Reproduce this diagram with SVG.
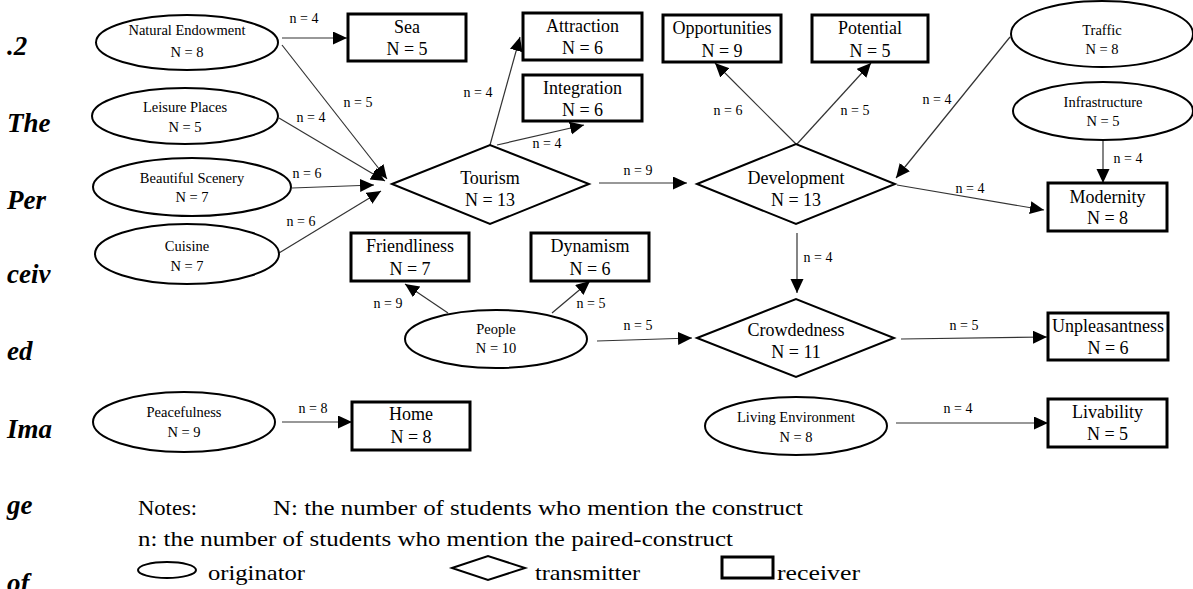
<svg xmlns="http://www.w3.org/2000/svg" width="1193" height="589" viewBox="0 0 1193 589">
<style>
.ell{fill:#fff;stroke:#000;stroke-width:2}
.box{fill:#fff;stroke:#000;stroke-width:3}
.dia{fill:#fff;stroke:#000;stroke-width:2}
.e{font-family:"Liberation Serif",serif;font-size:14.5px;text-anchor:middle;fill:#000}
.b{font-family:"Liberation Serif",serif;font-size:18px;text-anchor:middle;fill:#000}
.l{font-family:"Liberation Serif",serif;font-size:14px;text-anchor:middle;fill:#000}
.c{fill:none;stroke:#333;stroke-width:1.2}
.side{font-family:"Liberation Serif",serif;font-size:27px;font-weight:bold;font-style:italic;fill:#000}
.note{font-family:"Liberation Serif",serif;font-size:21px;fill:#000}
</style>
<defs>
<marker id="ah" markerUnits="userSpaceOnUse" markerWidth="15" markerHeight="14" refX="14" refY="6.5" orient="auto">
<path d="M0,0 L14,6.5 L0,13 z" fill="#000"/>
</marker>
</defs>
<rect width="1193" height="589" fill="#fff"/>

<g id="sidetext">
<text class="side" x="7" y="55">.2</text>
<text class="side" x="7" y="132">The</text>
<text class="side" x="7" y="209">Per</text>
<text class="side" x="7" y="283">ceiv</text>
<text class="side" x="7" y="360">ed</text>
<text class="side" x="7" y="438">Ima</text>
<text class="side" x="7" y="514">ge</text>
<text class="side" x="7" y="592">of</text>
</g>

<g id="connectors">
<line class="c" x1="282" y1="38" x2="347" y2="38" marker-end="url(#ah)"/>
<line class="c" x1="282" y1="45" x2="387" y2="179" marker-end="url(#ah)"/>
<line class="c" x1="279" y1="118" x2="385" y2="181" marker-end="url(#ah)"/>
<line class="c" x1="292" y1="188" x2="374" y2="185" marker-end="url(#ah)"/>
<line class="c" x1="279" y1="253" x2="381" y2="191" marker-end="url(#ah)"/>
<line class="c" x1="490" y1="145" x2="520" y2="37" marker-end="url(#ah)"/>
<line class="c" x1="497" y1="145" x2="584" y2="125" marker-end="url(#ah)"/>
<line class="c" x1="599" y1="183" x2="687" y2="183" marker-end="url(#ah)"/>
<line class="c" x1="797" y1="145" x2="715" y2="63" marker-end="url(#ah)"/>
<line class="c" x1="797" y1="144" x2="871" y2="63" marker-end="url(#ah)"/>
<line class="c" x1="1010" y1="37" x2="896" y2="178" marker-end="url(#ah)"/>
<line class="c" x1="1103" y1="140" x2="1103" y2="183" marker-end="url(#ah)"/>
<line class="c" x1="897" y1="185" x2="1044" y2="210" marker-end="url(#ah)"/>
<line class="c" x1="797" y1="233" x2="797" y2="293" marker-end="url(#ah)"/>
<line class="c" x1="448" y1="313" x2="405" y2="284" marker-end="url(#ah)"/>
<line class="c" x1="552" y1="313" x2="590" y2="281" marker-end="url(#ah)"/>
<line class="c" x1="597" y1="341" x2="692" y2="338" marker-end="url(#ah)"/>
<line class="c" x1="901" y1="339" x2="1047" y2="337" marker-end="url(#ah)"/>
<line class="c" x1="282" y1="422" x2="352" y2="422" marker-end="url(#ah)"/>
<line class="c" x1="896" y1="423" x2="1048" y2="423" marker-end="url(#ah)"/>
<text class="l" x="304" y="23">n = 4</text>
<text class="l" x="358" y="107">n = 5</text>
<text class="l" x="311" y="122">n = 4</text>
<text class="l" x="307" y="178">n = 6</text>
<text class="l" x="301" y="226">n = 6</text>
<text class="l" x="478" y="97">n = 4</text>
<text class="l" x="547" y="148">n = 4</text>
<text class="l" x="638" y="175">n = 9</text>
<text class="l" x="728" y="115">n = 6</text>
<text class="l" x="855" y="115">n = 5</text>
<text class="l" x="937" y="104">n = 4</text>
<text class="l" x="1128" y="163">n = 4</text>
<text class="l" x="970" y="193">n = 4</text>
<text class="l" x="818" y="262">n = 4</text>
<text class="l" x="388" y="308">n = 9</text>
<text class="l" x="591" y="308">n = 5</text>
<text class="l" x="638" y="330">n = 5</text>
<text class="l" x="964" y="330">n = 5</text>
<text class="l" x="313" y="413">n = 8</text>
<text class="l" x="958" y="413">n = 4</text>
</g>

<g id="natural-endowment"><ellipse class="ell" cx="187" cy="42.5" rx="91" ry="27.5"/><text class="e" x="187" y="35">Natural Endowment</text><text class="e" x="187" y="57">N = 8</text></g>
<g id="leisure-places"><ellipse class="ell" cx="185" cy="116" rx="93" ry="28"/><text class="e" x="185" y="112">Leisure  Places</text><text class="e" x="185" y="132">N = 5</text></g>
<g id="beautiful-scenery"><ellipse class="ell" cx="192" cy="187" rx="99" ry="29"/><text class="e" x="192" y="183">Beautiful Scenery</text><text class="e" x="192" y="202">N = 7</text></g>
<g id="cuisine"><ellipse class="ell" cx="187" cy="254" rx="92" ry="30"/><text class="e" x="187" y="251">Cuisine</text><text class="e" x="187" y="271">N = 7</text></g>
<g id="traffic"><ellipse class="ell" cx="1102" cy="34" rx="91" ry="33"/><text class="e" x="1102" y="35">Traffic</text><text class="e" x="1102" y="54">N = 8</text></g>
<g id="infrastructure"><ellipse class="ell" cx="1103" cy="111" rx="90" ry="29"/><text class="e" x="1103" y="107">Infrastructure</text><text class="e" x="1103" y="126">N = 5</text></g>
<g id="people"><ellipse class="ell" cx="496" cy="339" rx="91" ry="29"/><text class="e" x="496" y="334">People</text><text class="e" x="496" y="353">N = 10</text></g>
<g id="peacefulness"><ellipse class="ell" cx="184" cy="422" rx="91" ry="30"/><text class="e" x="184" y="417">Peacefulness</text><text class="e" x="184" y="437">N = 9</text></g>
<g id="living-environment"><ellipse class="ell" cx="796" cy="426" rx="91" ry="29"/><text class="e" x="796" y="422">Living Environment</text><text class="e" x="796" y="442">N = 8</text></g>

<g id="tourism"><polygon class="dia" points="392,184 490,145 589,184 490,224"/><text class="b" x="490" y="184">Tourism</text><text class="b" x="490" y="206">N = 13</text></g>
<g id="development"><polygon class="dia" points="697,184 796,144 895,184 796,224"/><text class="b" x="796" y="184">Development</text><text class="b" x="796" y="206">N = 13</text></g>
<g id="crowdedness"><polygon class="dia" points="697,338 796,299 894,338 796,377"/><text class="b" x="796" y="336">Crowdedness</text><text class="b" x="796" y="358">N = 11</text></g>

<g id="sea"><rect class="box" x="348" y="14" width="118" height="47"/><text class="b" x="407" y="33">Sea</text><text class="b" x="407" y="55">N = 5</text></g>
<g id="attraction"><rect class="box" x="523" y="13" width="119" height="47"/><text class="b" x="582.5" y="32">Attraction</text><text class="b" x="582.5" y="54">N = 6</text></g>
<g id="integration"><rect class="box" x="523" y="75" width="119" height="46"/><text class="b" x="582.5" y="94">Integration</text><text class="b" x="582.5" y="116">N = 6</text></g>
<g id="opportunities"><rect class="box" x="663" y="15" width="118" height="47"/><text class="b" x="722" y="34">Opportunities</text><text class="b" x="722" y="57">N = 9</text></g>
<g id="potential"><rect class="box" x="812" y="15" width="116" height="47"/><text class="b" x="870" y="34">Potential</text><text class="b" x="870" y="57">N = 5</text></g>
<g id="modernity"><rect class="box" x="1048" y="183" width="119" height="48"/><text class="b" x="1107.5" y="203">Modernity</text><text class="b" x="1107.5" y="224">N = 8</text></g>
<g id="friendliness"><rect class="box" x="351" y="233" width="118" height="48"/><text class="b" x="410" y="252">Friendliness</text><text class="b" x="410" y="275">N = 7</text></g>
<g id="dynamism"><rect class="box" x="531" y="233" width="118" height="48"/><text class="b" x="590" y="252">Dynamism</text><text class="b" x="590" y="275">N = 6</text></g>
<g id="unpleasantness"><rect class="box" x="1048" y="313" width="120" height="47"/><text class="b" x="1108" y="332">Unpleasantness</text><text class="b" x="1108" y="354">N = 6</text></g>
<g id="home"><rect class="box" x="352" y="402" width="118" height="48"/><text class="b" x="411" y="420">Home</text><text class="b" x="411" y="443">N = 8</text></g>
<g id="livability"><rect class="box" x="1048" y="399" width="119" height="48"/><text class="b" x="1107.5" y="418">Livability</text><text class="b" x="1107.5" y="440">N = 5</text></g>

<g id="legend">
<text class="note" x="138" y="515" textLength="59" lengthAdjust="spacingAndGlyphs">Notes:</text>
<text class="note" x="273" y="515" textLength="530" lengthAdjust="spacingAndGlyphs">N: the number of students who mention the construct</text>
<text class="note" x="138" y="546" textLength="595" lengthAdjust="spacingAndGlyphs">n: the number of students who mention the paired-construct</text>
<ellipse cx="167" cy="570" rx="29" ry="8" fill="#fff" stroke="#000" stroke-width="2"/>
<text class="note" x="208" y="580" textLength="97" lengthAdjust="spacingAndGlyphs">originator</text>
<polygon points="452,568 488,556 525,568 488,580" fill="#fff" stroke="#000" stroke-width="2"/>
<text class="note" x="535" y="580" textLength="105" lengthAdjust="spacingAndGlyphs">transmitter</text>
<rect x="722" y="557" width="51" height="21" fill="#fff" stroke="#000" stroke-width="3"/>
<text class="note" x="777" y="580" textLength="83" lengthAdjust="spacingAndGlyphs">receiver</text>
</g>
</svg>
